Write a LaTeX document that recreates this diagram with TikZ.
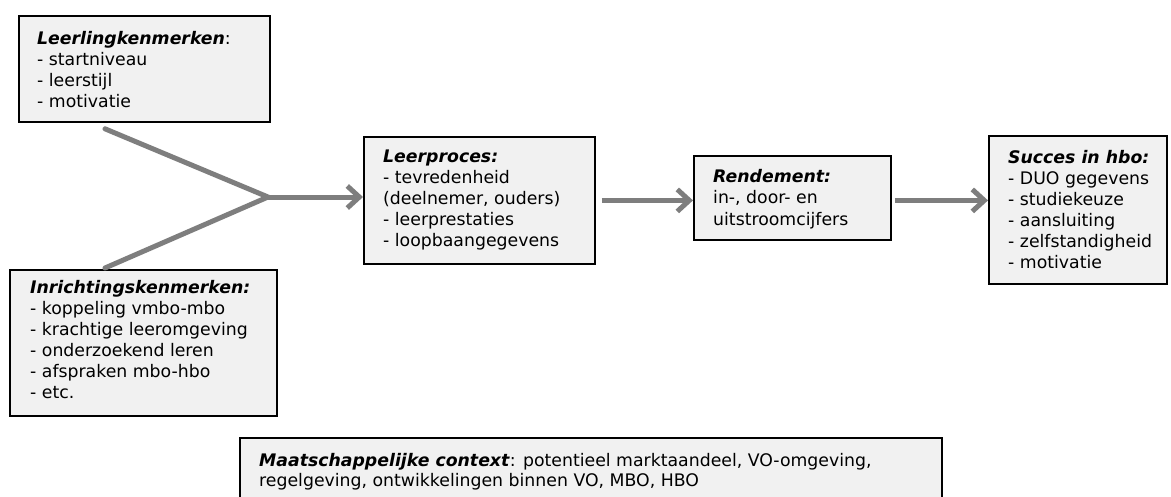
\documentclass[tikz,border=0pt]{standalone}
\usepackage{fontspec}
\setmainfont{DejaVu Sans}
\usetikzlibrary{arrows.meta,calc}
\definecolor{boxfill}{HTML}{F1F1F1}
\definecolor{arrowgray}{HTML}{7E7E7E}
\tikzset{
  box/.style={draw=black, line width=1.8pt, fill=boxfill, inner sep=0pt},
  txt/.style={anchor=north west, inner sep=0pt, align=left,
     font=\fontsize{17.3}{21}\selectfont},
  conn/.style={draw=arrowgray, line width=5pt},
  flow/.style={conn, -{Straight Barb[length=12pt,width=22pt,line width=5pt]}},
}
\newcommand{\hd}[1]{\textbf{\textit{#1}}}
\begin{document}
\begin{tikzpicture}[x=1pt,y=-1pt]
\clip (0,0) rectangle (1171,496);
\fill[white] (0,0) rectangle (1171,496);

% boxes
\node[box, minimum width=251pt, minimum height=106pt, anchor=north west] (lk) at (18,15) {};
\node[box, minimum width=267pt, minimum height=146pt, anchor=north west] (ik) at (9,269) {};
\node[box, minimum width=231pt, minimum height=127pt, anchor=north west] (lp) at (363,136) {};
\node[box, minimum width=197pt, minimum height=84pt, anchor=north west] (rd) at (693,155) {};
\node[box, minimum width=178pt, minimum height=148pt, anchor=north west] (sh) at (988,135) {};
\node[box, minimum width=702pt, minimum height=90pt, anchor=north west] (mc) at (239,437) {};

% texts
\node[txt] (lkt) at (37,31) {\hd{Leerlingkenmerken}:\\- startniveau\\- leerstijl\\- motivatie};
\node[txt] (ikt) at (30,280) {\hd{Inrichtingskenmerken:}\\- koppeling vmbo-mbo\\- krachtige leeromgeving\\- onderzoekend leren\\- afspraken mbo-hbo\\- etc.};
\node[txt] (lpt) at (383,150) {\hd{Leerproces:}\\- tevredenheid\\(deelnemer, ouders)\\- leerprestaties\\- loopbaangegevens};
\node[txt, font=\fontsize{17.3}{21.5}\selectfont] (rdt) at (713,169) {\hd{Rendement:}\\in-, door- en\\uitstroomcijfers};
\node[txt] (sht) at (1008,150) {\hd{Succes in hbo:}\\- DUO gegevens\\- studiekeuze\\- aansluiting\\- zelfstandigheid\\- motivatie};
\node[txt, font=\fontsize{17.3}{20}\selectfont] (mct) at (259,453) {\hd{Maatschappelijke context}: potentieel marktaandeel, VO-omgeving,\\regelgeving, ontwikkelingen binnen VO, MBO, HBO};

% connectors
\coordinate (j) at (268,197);
\coordinate (s1) at ($(lk.south west)+(87,6)$);
\coordinate (s2) at ($(ik.north west)+(96,-1)$);
\draw[conn, line cap=round] (s1) -- (j) -- (s2);
\draw[flow] (j) -- (lp.west |- j);
\draw[flow] ($(lp.east)+(6,0)$) -- (rd.west |- lp.east);
\draw[flow] ($(rd.east |- lp.east)+(3,0)$) -- (sh.west |- lp.east);
\end{tikzpicture}
\end{document}
